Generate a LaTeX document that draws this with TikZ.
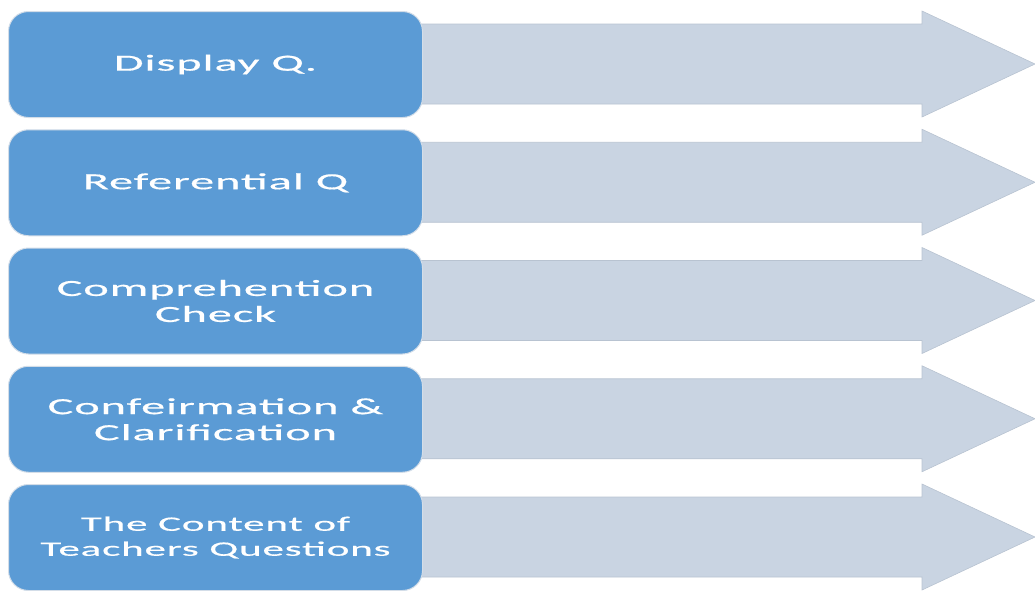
\documentclass[tikz,border=0pt]{standalone}
\usepackage{fontspec}
\newfontfamily\boxfont[FakeStretch=2.1,LetterSpace=4,FakeBold=0.6]{Carlito}
\definecolor{boxblue}{HTML}{5B9BD5}
\definecolor{boxedge}{HTML}{D3DDE8}
\definecolor{arrowfill}{HTML}{C9D4E2}
\definecolor{arrowedge}{HTML}{B8C3D1}
\begin{document}
\begin{tikzpicture}[x=1pt,y=-1pt,
  bluebox/.style={draw=boxedge,line width=1pt,fill=boxblue,rounded corners=20pt,
    minimum width=414pt,minimum height=106pt,inner sep=0pt,anchor=north west,
    text=white,align=center,font=\boxfont\fontsize{23}{26}\selectfont},
  greyarrow/.style={draw=arrowedge,line width=0.6pt,fill=arrowfill}]
\useasboundingbox (0,0) rectangle (1035,590);
\foreach \i/\t in {0/11,1/129.25,2/247.5,3/365.75,4/484}{
  \draw[greyarrow] (420,\t+13) -- (922,\t+13) -- (922,\t) -- (1035,\t+53) -- (922,\t+106) -- (922,\t+93) -- (420,\t+93) -- cycle;
}
\node[bluebox] (b1) at (8,11) {Display Q.};
\node[bluebox] (b2) at (8,129.25) {Referential Q};
\node[bluebox] (b3) at (8,247.5) {Comprehention\\Check};
\node[bluebox] (b4) at (8,365.75) {Confeirmation \&\\Clarification};
\node[bluebox,font=\boxfont\fontsize{20.5}{25}\selectfont] (b5) at (8,484) {The Content of\\Teachers Questions};
\end{tikzpicture}
\end{document}
